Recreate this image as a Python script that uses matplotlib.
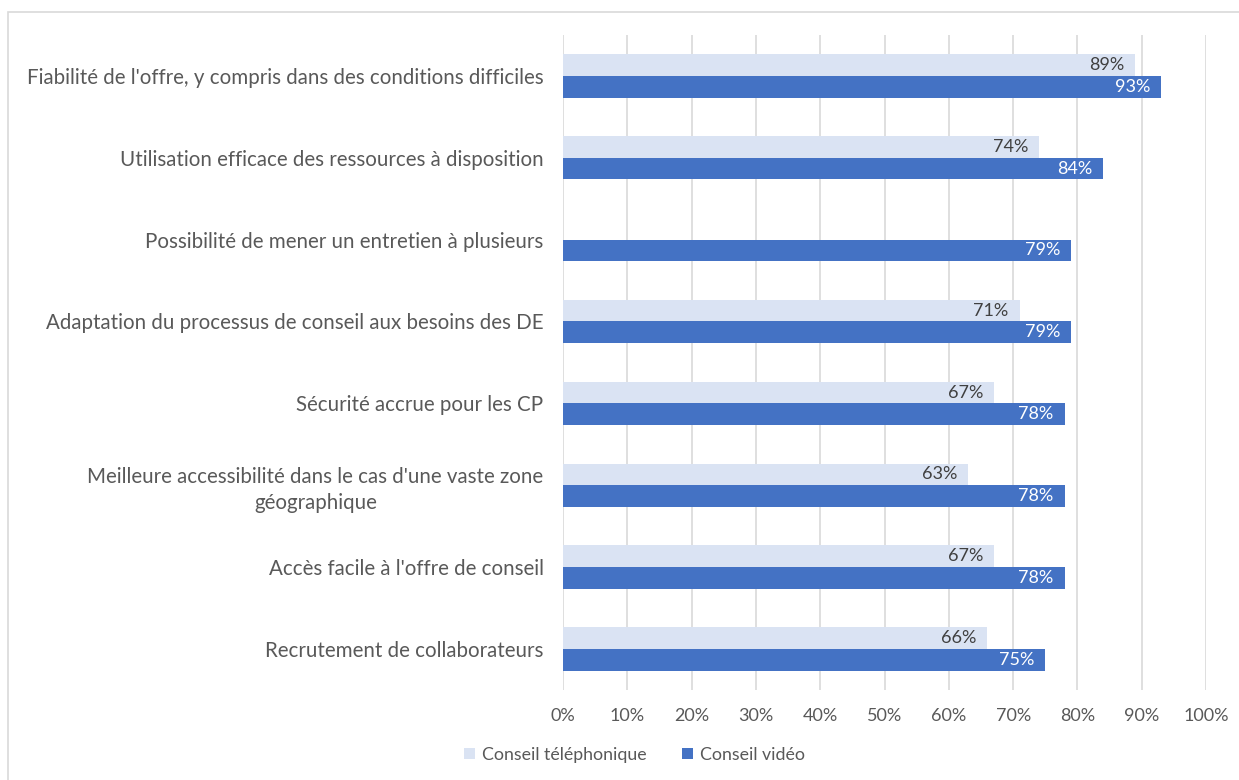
import numpy as np
import matplotlib.pyplot as plt
from matplotlib.patches import Rectangle

plt.rcParams['font.family'] = ['Lato', 'DejaVu Sans']

categories = [
    "Fiabilité de l'offre, y compris dans des conditions difficiles",
    "Utilisation efficace des ressources à disposition",
    "Possibilité de mener un entretien à plusieurs",
    "Adaptation du processus de conseil aux besoins des DE",
    "Sécurité accrue pour les CP",
    "Meilleure accessibilité dans le cas d'une vaste zone\ngéographique",
    "Accès facile à l'offre de conseil",
    "Recrutement de collaborateurs",
]
phone = [89, 74, None, 71, 67, 63, 67, 66]
video = [93, 84, 79, 79, 78, 78, 78, 75]
series_names = ["Conseil téléphonique", "Conseil vidéo"]

light = "#DAE3F3"
dark = "#4472C4"
text_gray = "#595959"

fig = plt.figure(figsize=(12.39, 7.8), dpi=100)
ax = fig.add_axes([0.4544, 0.1155, 0.519, 0.8397])

# outer chart frame
fig.patches.append(Rectangle((8 / 1239, -0.01), 1.0, 1 - 12 / 780 + 0.01,
                             transform=fig.transFigure, fill=False,
                             edgecolor="#D9D9D9", linewidth=1.2))

y = np.arange(len(categories))
h = 0.265
phone_vals = [v if v is not None else 0 for v in phone]
b1 = ax.barh(y - h / 2, phone_vals, height=h, color=light, label=series_names[0], zorder=3)
b2 = ax.barh(y + h / 2, video, height=h, color=dark, label=series_names[1], zorder=3)

for yi, v in zip(y, phone):
    if v is not None:
        ax.text(v - 1.7, yi - h / 2, f"{v}%", ha="right", va="center",
                fontsize=13, color="#404040", zorder=4)
for yi, v in zip(y, video):
    ax.text(v - 1.7, yi + h / 2, f"{v}%", ha="right", va="center",
            fontsize=13, color="white", zorder=4)

ax.set_ylim(len(categories) - 0.5, -0.5)
ax.set_xlim(0, 100)
ax.set_xticks(np.arange(0, 101, 10))
ax.set_xticklabels([f"{t}%" for t in range(0, 101, 10)])
ax.set_yticks(y)
ax.set_yticklabels(categories, multialignment="center", linespacing=1.35)
ax.tick_params(axis="x", length=0, pad=13, labelsize=13, labelcolor=text_gray)
ax.tick_params(axis="y", length=0, pad=14, labelsize=14.8, labelcolor=text_gray)
ax.grid(axis="x", color="#D9D9D9", linewidth=1.2, zorder=0)
for s in ax.spines.values():
    s.set_visible(False)

fig.legend(handles=[b1, b2], loc="center", bbox_to_anchor=(0.512, 0.032),
           ncol=2, frameon=False, fontsize=12.8,
           labelcolor=text_gray, handlelength=0.6, handleheight=0.6,
           handletextpad=0.4, columnspacing=2.0)

fig.savefig("out.png", dpi=100, facecolor="white")
